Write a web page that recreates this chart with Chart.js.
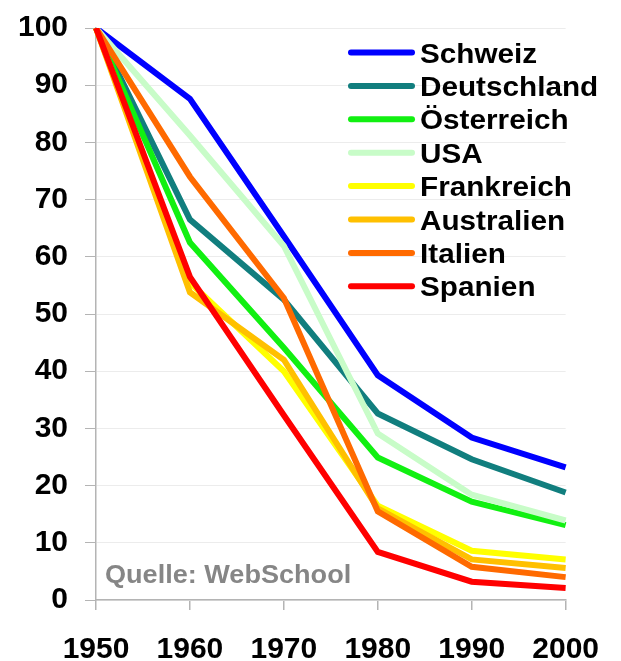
<!DOCTYPE html>
<html>
<head>
<meta charset="utf-8">
<script src="https://cdn.jsdelivr.net/npm/chart.js@4.4.1/dist/chart.umd.min.js"></script>
<style>
  html, body { margin: 0; padding: 0; background: #ffffff; }
  #wrap { position: relative; width: 621px; height: 661px; }
</style>
</head>
<body>
<div id="wrap"><canvas id="c" width="621" height="661"></canvas></div>
<script>
// Jahre (x-Achse)
const years = ['1950', '1960', '1970', '1980', '1990', '2000'];
const yTicks = [0, 10, 20, 30, 40, 50, 60, 70, 80, 90, 100];

// Index 1950 = 100
const schweiz     = [100, 87.6, 63.6, 39.3, 28.4, 23.2];
const deutschland = [100, 66.5, 52.5, 32.6, 24.6, 18.8];
const oesterreich = [100, 62.5, 44.1, 24.9, 17.2, 13.1];
const usa         = [100, 81.2, 61.9, 29.1, 18.4, 13.9];
const frankreich  = [100, 55.5, 40.0, 16.5, 8.6, 7.1];
const australien  = [100, 53.8, 42.0, 16.0, 7.1, 5.6];
const italien     = [100, 74.0, 52.8, 15.5, 5.8, 4.0];
const spanien     = [100, 56.5, 32.3, 8.4, 3.2, 2.1];

const names  = ['Schweiz', 'Deutschland', 'Österreich', 'USA', 'Frankreich', 'Australien', 'Italien', 'Spanien'];
const series = [schweiz, deutschland, oesterreich, usa, frankreich, australien, italien, spanien];
const colors = ['#0000ff', '#117e7e', '#11f011', '#c8fcc8', '#ffff00', '#ffc000', '#ff6a00', '#ff0000'];

const FONT = '"Liberation Sans", Arial, Helvetica, sans-serif';

// Spätere Reihen liegen oben
const datasets = names.map((n, i) => ({
  label: n,
  data: series[i],
  borderColor: colors[i],
  backgroundColor: colors[i],
  borderWidth: 6,
  pointRadius: 0,
  tension: 0,
  fill: false,
  order: names.length - 1 - i
}));

// Legende oben rechts und Quellenangabe
const decorations = {
  id: 'decorations',
  beforeDatasetsDraw(chart) {
    const ctx = chart.ctx;
    ctx.save();
    ctx.fillStyle = '#868686';
    ctx.font = 'bold 25px ' + FONT;
    ctx.textBaseline = 'alphabetic';
    ctx.translate(105, 583);
    ctx.scale(1.083, 1);
    ctx.fillText('Quelle: WebSchool', 0, 0);
    ctx.restore();
  },
  afterDraw(chart) {
    const ctx = chart.ctx;
    chart.data.datasets.forEach((ds, i) => {
      const y = 52.5 + i * 33.4;
      ctx.save();
      ctx.strokeStyle = ds.borderColor;
      ctx.lineWidth = 6;
      ctx.lineCap = 'round';
      ctx.beginPath();
      ctx.moveTo(351, y);
      ctx.lineTo(412, y);
      ctx.stroke();
      ctx.fillStyle = '#000000';
      ctx.font = 'bold 27px ' + FONT;
      ctx.textBaseline = 'alphabetic';
      ctx.translate(420, y + 10);
      ctx.scale(1.1, 1);
      ctx.fillText(ds.label, 0, 0);
      ctx.restore();
    });
  }
};

new Chart(document.getElementById('c'), {
  type: 'line',
  data: { labels: years, datasets },
  options: {
    responsive: false,
    animation: false,
    devicePixelRatio: 1,
    layout: { padding: { left: 0, right: 54, top: 28, bottom: 0 } },
    plugins: { legend: { display: false }, tooltip: { enabled: false } },
    scales: {
      x: {
        offset: false,
        grid: { display: true, drawOnChartArea: false, drawTicks: true, tickLength: 10, tickColor: '#b4b4b4', lineWidth: 1.5 },
        border: { display: true, color: '#b4b4b4', width: 1.5 },
        ticks: { color: '#000000', font: { family: FONT, size: 30, weight: 'bold' }, padding: 22, maxRotation: 0, autoSkip: false },
        afterFit(scale) { scale.height = 61; }
      },
      y: {
        min: 0,
        max: 100,
        afterBuildTicks(scale) { scale.ticks = yTicks.map(v => ({ value: v })); },
        grid: { color: '#ececec', lineWidth: 1, drawTicks: true, tickLength: 11, tickColor: '#b4b4b4' },
        border: { display: true, color: '#b4b4b4', width: 1.5 },
        ticks: { color: '#000000', font: { family: FONT, size: 30, weight: 'bold' }, padding: 17 },
        afterFit(scale) {
          scale.width = 96;
          scale.paddingTop = 0;
          scale.paddingBottom = 0;
        }
      }
    }
  },
  plugins: [decorations]
});
</script>
</body>
</html>
